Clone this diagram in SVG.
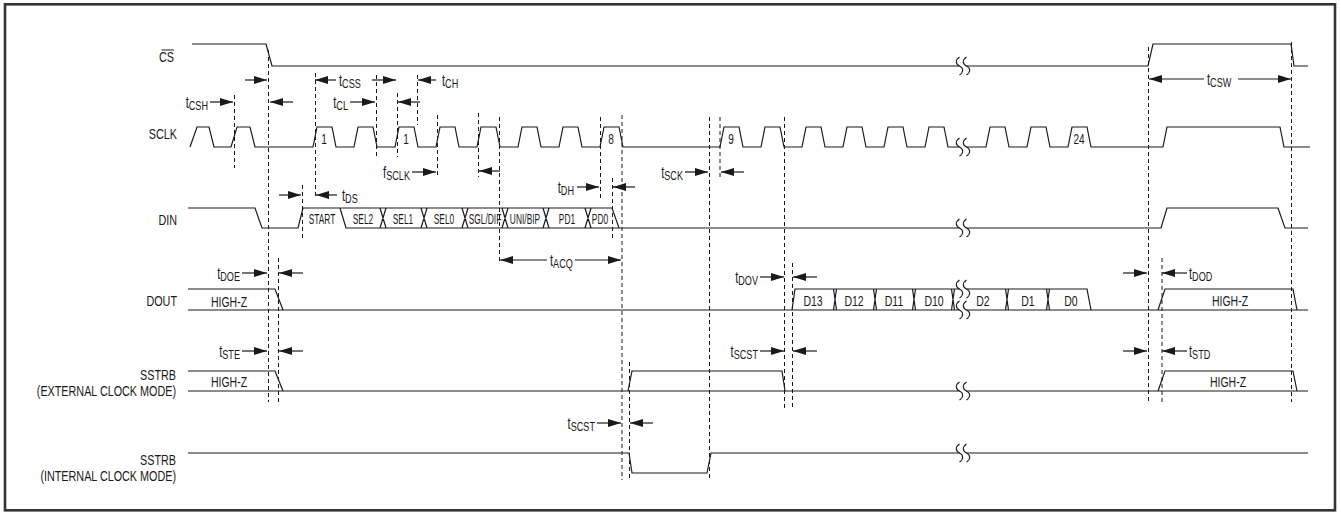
<svg xmlns="http://www.w3.org/2000/svg" xmlns:xlink="http://www.w3.org/1999/xlink" width="1341" height="514" viewBox="0 0 1341 514">
<style>
.w{fill:none;stroke:#1a1a1a;stroke-width:1.2;stroke-linejoin:miter}
.d{fill:none;stroke:#1a1a1a;stroke-width:1;stroke-dasharray:4 3}
.a{fill:none;stroke:#1a1a1a;stroke-width:1.2;marker-end:url(#ah)}
text{font-family:"Liberation Sans",Arial,sans-serif;fill:#1a1a1a}
.lb{font-size:15px}
.bt{font-size:14px}
.tm{font-size:16px}
.sb{font-size:13px}
</style>
<defs>
<marker id="ah" viewBox="0 0 13 8" refX="13" refY="4" markerWidth="13" markerHeight="8" markerUnits="userSpaceOnUse" orient="auto"><path d="M0,0 L13,4 L0,8 z" fill="#1a1a1a"/></marker>
<g id="brk"><rect x="-3.5" y="-3" width="7" height="6" fill="#fff"/><path d="M-3.5,-9 C-8,-6 -7.5,-2 -3.5,0 C0.5,2 1,6 -3.5,9 M3.5,-9 C-1,-6 -0.5,-2 3.5,0 C7.5,2 8,6 3.5,9" fill="none" stroke="#1a1a1a" stroke-width="1.1"/></g>
</defs>
<rect width="1341" height="514" fill="#fff"/>
<g id="frame"><rect x="5" y="4.3" width="1330" height="506" fill="none" stroke="#333" stroke-width="2.6"/></g>

<g id="labels">
<text class="lb" text-anchor="end" transform="translate(174,62) scale(0.72,1)">CS</text>
<line x1="161.5" y1="50" x2="174" y2="50" stroke="#1a1a1a" stroke-width="1"/>
<text class="lb" text-anchor="end" transform="translate(177,139) scale(0.72,1)">SCLK</text>
<text class="lb" text-anchor="end" transform="translate(177,224.5) scale(0.72,1)">DIN</text>
<text class="lb" text-anchor="end" transform="translate(177,306) scale(0.72,1)">DOUT</text>
<text class="lb" text-anchor="end" transform="translate(176,380) scale(0.72,1)">SSTRB</text>
<text class="lb" text-anchor="end" transform="translate(176,396) scale(0.72,1)">(EXTERNAL CLOCK MODE)</text>
<text class="lb" text-anchor="end" transform="translate(176,465) scale(0.72,1)">SSTRB</text>
<text class="lb" text-anchor="end" transform="translate(176,481) scale(0.72,1)">(INTERNAL CLOCK MODE)</text>
</g>

<g id="sig-cs">
<path class="w" d="M192,44 L266,44 L272,66 L1148,66 L1153,44 L1291,44 L1294,66 L1308,66"/>
</g>

<g id="sig-sclk">
<path class="w" d="M190,147 L197,127 L209,127 L214,147 L231,147 L237,127 L250,127 L255,147 L313,147 L317,127 L332,127 L336,147 L354,147 L358,127 L373,127 L377,147 L395,147 L399,127 L414,127 L418,147 L436,147 L440,127 L455,127 L459,147 L477,147 L481,127 L496,127 L500,147 L518,147 L522,127 L537,127 L541,147 L559,147 L563,127 L578,127 L582,147 L600,147 L604,127 L619,127 L623,147 L720,147 L724,127 L739,127 L743,147 L761,147 L765,127 L780,127 L784,147 L802,147 L806,127 L821,127 L825,147 L843,147 L847,127 L862,127 L866,147 L884,147 L888,127 L903,127 L907,147 L925,147 L929,127 L944,127 L948,147 L986,147 L990,127 L1005,127 L1009,147 L1027,147 L1031,127 L1046,127 L1050,147 L1068,147 L1072,127 L1087,127 L1091,147 L1163,147 L1167,127 L1280,127 L1284,147 L1310,147"/>
<g class="bt" text-anchor="middle">
<text transform="translate(324,143.5) scale(0.72,1)">1</text>
<text transform="translate(406,143.5) scale(0.72,1)">1</text>
<text transform="translate(611,143.5) scale(0.72,1)">8</text>
<text transform="translate(731,143.5) scale(0.72,1)">9</text>
<text transform="translate(1079,143.5) scale(0.72,1)">24</text>
</g>
</g>

<g id="sig-din">
<path class="w" d="M188,208 L255,208 L262,228 L298,228 L303,208 L612,208 L619,228 L1161,228 L1167,208 L1278,208 L1285,228 L1308,228 M340,208 L346,228 L619,228 M380,208 L386,228 M386,208 L380,228 M421,208 L427,228 M427,208 L421,228 M462,208 L468,228 M468,208 L462,228 M502,208 L508,228 M508,208 L502,228 M543,208 L549,228 M549,208 L543,228 M585,208 L591,228 M591,208 L585,228"/>
<g class="bt" text-anchor="middle">
<text transform="translate(322,223.5) scale(0.6,1)">START</text>
<text transform="translate(363,223.5) scale(0.6,1)">SEL2</text>
<text transform="translate(403,223.5) scale(0.6,1)">SEL1</text>
<text transform="translate(444,223.5) scale(0.6,1)">SEL0</text>
<text transform="translate(485,223.5) scale(0.6,1)">SGL/DIF</text>
<text transform="translate(525,223.5) scale(0.6,1)">UNI/BIP</text>
<text transform="translate(567,223.5) scale(0.6,1)">PD1</text>
<text transform="translate(600,223.5) scale(0.6,1)">PD0</text>
</g>
</g>

<g id="sig-dout">
<path class="w" d="M188,289 L275,289 L283,310 M188,310 L1308,310 M792,310 L795,289 L1087,289 L1091,310 M1158,310 L1165,289 L1293,289 L1297,310 M833.5,289 L836.5,310 M836.5,289 L833.5,310 M873.5,289 L876.5,310 M876.5,289 L873.5,310 M912.5,289 L915.5,310 M915.5,289 L912.5,310 M951.5,289 L954.5,310 M954.5,289 L951.5,310 M1005.5,289 L1008.5,310 M1008.5,289 L1005.5,310 M1046.5,289 L1049.5,310 M1049.5,289 L1046.5,310"/>
<g class="lb" text-anchor="middle">
<text transform="translate(813,305.5) scale(0.7,1)">D13</text>
<text transform="translate(854,305.5) scale(0.7,1)">D12</text>
<text transform="translate(894,305.5) scale(0.7,1)">D11</text>
<text transform="translate(934,305.5) scale(0.7,1)">D10</text>
<text transform="translate(983,305.5) scale(0.7,1)">D2</text>
<text transform="translate(1028,305.5) scale(0.7,1)">D1</text>
<text transform="translate(1071,305.5) scale(0.7,1)">D0</text>
</g>
<g class="bt" text-anchor="middle">
<text transform="translate(229,306.5) scale(0.75,1)">HIGH-Z</text>
<text transform="translate(1230,306) scale(0.75,1)">HIGH-Z</text>
</g>
</g>

<g id="sig-sstrb-ext">
<path class="w" d="M188,371 L275,371 L283,391 M188,391 L1308,391 M628,391 L632,371 L782,371 L785,391 M1158,391 L1165,371 L1293,371 L1297,391"/>
<g class="bt" text-anchor="middle">
<text transform="translate(229,387) scale(0.75,1)">HIGH-Z</text>
<text transform="translate(1228,387) scale(0.75,1)">HIGH-Z</text>
</g>
</g>

<g id="sig-sstrb-int">
<path class="w" d="M188,453 L629,453 L632,473 L707,473 L711,453 L1308,453"/>
</g>

<g id="breaks">
<use xlink:href="#brk" x="963" y="66"/>
<use xlink:href="#brk" x="963" y="147"/>
<use xlink:href="#brk" x="963" y="228"/>
<use xlink:href="#brk" x="963" y="289"/>
<use xlink:href="#brk" x="963" y="310"/>
<use xlink:href="#brk" x="963" y="391"/>
<use xlink:href="#brk" x="963" y="453"/>
</g>

<g id="guides">
<line class="d" x1="234.5" y1="95" x2="234.5" y2="168"/>
<line class="d" x1="268.5" y1="50" x2="268.5" y2="402"/>
<line class="d" x1="278.5" y1="258" x2="278.5" y2="402"/>
<line class="d" x1="302.5" y1="185" x2="302.5" y2="240"/>
<line class="d" x1="315.5" y1="73" x2="315.5" y2="198"/>
<line class="d" x1="376.5" y1="75" x2="376.5" y2="157"/>
<line class="d" x1="397.5" y1="93" x2="397.5" y2="157"/>
<line class="d" x1="417.5" y1="75" x2="417.5" y2="125"/>
<line class="d" x1="437.5" y1="115" x2="437.5" y2="176"/>
<line class="d" x1="478.5" y1="113" x2="478.5" y2="177"/>
<line class="d" x1="499.5" y1="117" x2="499.5" y2="263"/>
<line class="d" x1="600.5" y1="117" x2="600.5" y2="198"/>
<line class="d" x1="612.5" y1="178" x2="612.5" y2="240"/>
<line class="d" x1="622" y1="115" x2="622" y2="480"/>
<line class="d" x1="629.5" y1="362" x2="629.5" y2="480"/>
<line class="d" x1="709.5" y1="117" x2="709.5" y2="480"/>
<line class="d" x1="720" y1="117" x2="720" y2="177"/>
<line class="d" x1="784.5" y1="117" x2="784.5" y2="408"/>
<line class="d" x1="792.5" y1="263" x2="792.5" y2="408"/>
<line class="d" x1="1148.5" y1="47" x2="1148.5" y2="402"/>
<line class="d" x1="1162" y1="258" x2="1162" y2="403"/>
<line class="d" x1="1291.5" y1="42" x2="1291.5" y2="402"/>
</g>

<g id="connectors">
<line class="a" x1="245" y1="80" x2="267" y2="80"/>
<line class="a" x1="336" y1="80" x2="315" y2="80"/>
<line class="a" x1="210" y1="102" x2="233" y2="102"/>
<line class="a" x1="293" y1="102" x2="270" y2="102"/>
<line class="a" x1="350" y1="102" x2="375" y2="102"/>
<line class="a" x1="420" y1="102" x2="398" y2="102"/>
<line class="a" x1="372" y1="80" x2="396" y2="80"/>
<line class="a" x1="436" y1="80" x2="418" y2="80"/>
<line class="a" x1="412" y1="172" x2="436" y2="172"/>
<line class="a" x1="500" y1="171" x2="479" y2="171"/>
<line class="a" x1="685" y1="172" x2="708" y2="172"/>
<line class="a" x1="744" y1="172" x2="721" y2="172"/>
<line class="a" x1="279" y1="195" x2="301" y2="195"/>
<line class="a" x1="337" y1="195" x2="316" y2="195"/>
<line class="a" x1="577" y1="187" x2="599" y2="187"/>
<line class="a" x1="635" y1="187" x2="613" y2="187"/>
<line class="a" x1="547" y1="260" x2="500" y2="260"/>
<line class="a" x1="575" y1="260" x2="621" y2="260"/>
<line class="a" x1="242" y1="273" x2="267" y2="273"/>
<line class="a" x1="303" y1="273" x2="279" y2="273"/>
<line class="a" x1="760" y1="277" x2="784" y2="277"/>
<line class="a" x1="817" y1="277" x2="793" y2="277"/>
<line class="a" x1="1123" y1="273" x2="1147" y2="273"/>
<line class="a" x1="1187" y1="273" x2="1162" y2="273"/>
<line class="a" x1="1204" y1="79" x2="1149" y2="79"/>
<line class="a" x1="1238" y1="79" x2="1291" y2="79"/>
<line class="a" x1="242" y1="351" x2="267" y2="351"/>
<line class="a" x1="303" y1="351" x2="279" y2="351"/>
<line class="a" x1="760" y1="351" x2="784" y2="351"/>
<line class="a" x1="817" y1="351" x2="793" y2="351"/>
<line class="a" x1="597" y1="423" x2="621" y2="423"/>
<line class="a" x1="653" y1="423" x2="630" y2="423"/>
<line class="a" x1="1123" y1="351" x2="1147" y2="351"/>
<line class="a" x1="1187" y1="351" x2="1162" y2="351"/>
</g>

<g id="timing-labels">
<text transform="translate(208,108) scale(0.7,1)" text-anchor="end"><tspan class="tm">t</tspan><tspan class="sb" dy="1.5">CSH</tspan></text>
<text transform="translate(339,86) scale(0.7,1)"><tspan class="tm">t</tspan><tspan class="sb" dy="1.5">CSS</tspan></text>
<text transform="translate(348,108) scale(0.7,1)" text-anchor="end"><tspan class="tm">t</tspan><tspan class="sb" dy="1.5">CL</tspan></text>
<text transform="translate(442,86) scale(0.7,1)"><tspan class="tm">t</tspan><tspan class="sb" dy="1.5">CH</tspan></text>
<text transform="translate(410,178) scale(0.7,1)" text-anchor="end"><tspan class="tm">f</tspan><tspan class="sb" dy="1.5">SCLK</tspan></text>
<text transform="translate(683,178) scale(0.7,1)" text-anchor="end"><tspan class="tm">t</tspan><tspan class="sb" dy="1.5">SCK</tspan></text>
<text transform="translate(342,201) scale(0.7,1)"><tspan class="tm">t</tspan><tspan class="sb" dy="1.5">DS</tspan></text>
<text transform="translate(574,193) scale(0.7,1)" text-anchor="end"><tspan class="tm">t</tspan><tspan class="sb" dy="1.5">DH</tspan></text>
<text transform="translate(550,266) scale(0.7,1)"><tspan class="tm">t</tspan><tspan class="sb" dy="1.5">ACQ</tspan></text>
<text transform="translate(240,279) scale(0.7,1)" text-anchor="end"><tspan class="tm">t</tspan><tspan class="sb" dy="1.5">DOE</tspan></text>
<text transform="translate(758,283) scale(0.7,1)" text-anchor="end"><tspan class="tm">t</tspan><tspan class="sb" dy="1.5">DOV</tspan></text>
<text transform="translate(1189,279) scale(0.7,1)"><tspan class="tm">t</tspan><tspan class="sb" dy="1.5">DOD</tspan></text>
<text transform="translate(1207,85) scale(0.7,1)"><tspan class="tm">t</tspan><tspan class="sb" dy="1.5">CSW</tspan></text>
<text transform="translate(240,357) scale(0.7,1)" text-anchor="end"><tspan class="tm">t</tspan><tspan class="sb" dy="1.5">STE</tspan></text>
<text transform="translate(758,357) scale(0.7,1)" text-anchor="end"><tspan class="tm">t</tspan><tspan class="sb" dy="1.5">SCST</tspan></text>
<text transform="translate(595,429) scale(0.7,1)" text-anchor="end"><tspan class="tm">t</tspan><tspan class="sb" dy="1.5">SCST</tspan></text>
<text transform="translate(1189,357) scale(0.7,1)"><tspan class="tm">t</tspan><tspan class="sb" dy="1.5">STD</tspan></text>
</g>
</svg>
